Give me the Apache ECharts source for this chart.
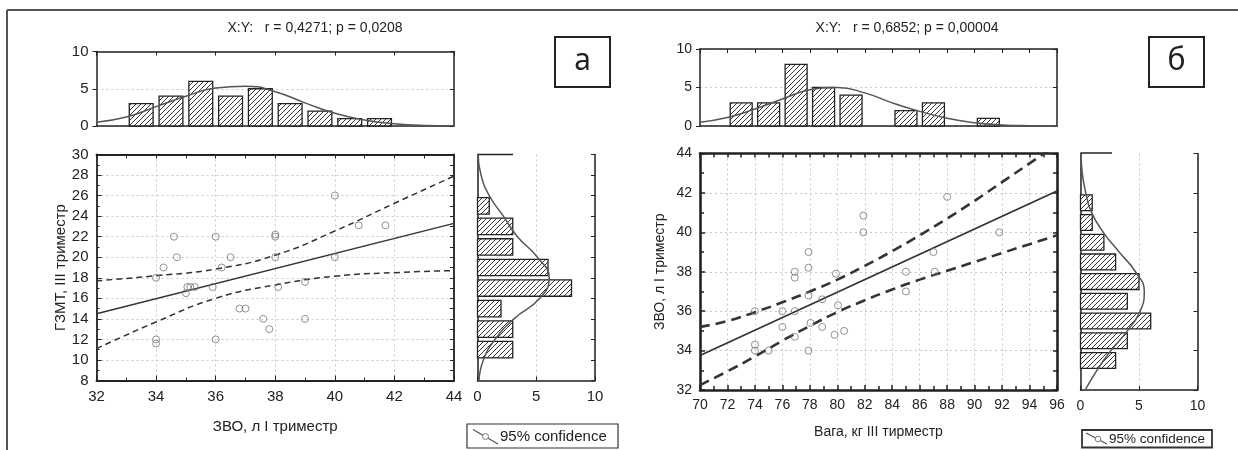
<!DOCTYPE html>
<html><head><meta charset="utf-8">
<script src="https://cdn.jsdelivr.net/npm/echarts@6/dist/echarts.min.js"></script>
<style>html,body{margin:0;padding:0;background:#fff}#c{width:1238px;height:450px}</style>
</head><body><div id="c"></div>
<script>
// ---------- DATA ----------
// Panel а
const titleA = 'X:Y:   r = 0,4271; p = 0,0208';
const xNameA = 'ЗВО, л І триместр';
const yNameA = 'ГЗМТ, ІІІ триместр';
const pointsAx = [34,34,34,34.25,34.6,34.7,35,35.05,35.15,35.3,35.9,36,36,36.2,36.5,36.8,37,37.6,37.8,38,38,38,38.1,39,39,40,40,40.8,41.7];
const pointsAy = [18,12,11.6,19,22,20,16.5,17.1,17.1,17.1,17.1,22,12,19,20,15,15,14,13,22.2,22,20,17.1,17.6,14,26,20,23.1,23.1];
const regAx = [32,44];
const regAy = [14.5,23.3];
const bandAx = [32,34,36,38,40,42,44];
const bandAupper = [17.7,18.2,18.85,20.2,22.55,25.25,27.9];
const bandAlower = [11.1,13.7,16.0,17.3,18.15,18.5,18.7];
const histAxEdges = [33,34,35,36,37,38,39,40,41,42];
const histAxCounts = [3,4,6,4,5,3,2,1,1];
const curveAtopX = [32,33,34,35,36,37,38,39,40,41,42,43,44];
const curveAtopY = [0.5,1.2,2.6,4.0,5.1,5.35,4.6,3.1,1.7,0.8,0.3,0.08,0.02];
const histAyEdges = [10,12,14,16,18,20,22,24,26];
const histAyCounts = [3,3,2,8,6,3,3,1];
const curveArY = [30,28,26,24,22,20,18,16,14,12,10,8];
const curveArX = [0.05,0.3,1.0,2.2,3.4,5.1,6.1,5.3,3.1,1.5,0.5,0.13];
// Panel б
const titleB = 'X:Y:   r = 0,6852; p = 0,00004';
const xNameB = 'Вага, кг ІІІ тирместр';
const yNameB = 'ЗВО, л І триместр';
const pointsBx = [74,74,74,75,76,76,76.9,76.9,76.9,76.9,77.9,77.9,77.9,78.05,77.9,78.9,78.9,79.9,79.8,80.05,80.5,81.9,81.9,85,85,87,87.1,88,91.8];
const pointsBy = [36,34.3,34,34,36,35.2,38,37.7,36,34.7,39,38.2,36.8,35.4,34,36.6,35.2,37.9,34.8,36.3,35,40.85,40,38,37,39,38,41.8,40];
const regBx = [70,96];
const regBy = [33.75,42.1];
const bandBx = [70,72,74,76,78,80,82,84,86,88,90,92,94,96];
const bandBupper = [35.2,35.5,35.95,36.45,37.0,37.6,38.3,39.05,39.85,40.7,41.6,42.55,43.5,44.45];
const bandBlower = [32.25,32.95,33.7,34.5,35.25,35.95,36.55,37.1,37.6,38.05,38.5,38.95,39.4,39.85];
const histBxEdges = [72,74,76,78,80,82,84,86,88,90,92];
const histBxCounts = [3,3,8,5,4,0,2,3,0,1];
const curveBtopX = [70,72,74,76,78,80,82,84,86,88,90,92,94,96];
const curveBtopY = [0.5,1.1,2.2,3.5,4.7,5.0,4.3,3.0,1.9,1.0,0.42,0.14,0.04,0.01];
const histByEdges = [33,34,35,36,37,38,39,40,41,42];
const histByCounts = [3,4,6,4,5,3,2,1,1];
const curveBrY = [44,43,42,41,40,39,38,37,36,35,34,33,32];
const curveBrX = [0.05,0.15,0.45,0.95,1.95,3.3,4.7,5.45,5.1,4.0,2.6,1.4,0.4];
const legendText = '95% confidence';

// ---------- helpers ----------
const FONT = '"Liberation Sans", Arial, sans-serif';
const ink = '#222';
function makeHatch(){
  const s = 5, c = document.createElement('canvas');
  c.width = s; c.height = s;
  const g = c.getContext('2d');
  g.fillStyle = '#fff'; g.fillRect(0,0,s,s);
  g.strokeStyle = '#333'; g.lineWidth = 1;
  g.beginPath();
  g.moveTo(-1, s+1); g.lineTo(s+1, -1);
  g.moveTo(-1, 1); g.lineTo(1, -1);
  g.moveTo(s-1, s+1); g.lineTo(s+1, s-1);
  g.stroke();
  return c;
}
const hatch = {image: makeHatch(), repeat: 'repeat'};
const bins = (edges, counts) => counts.map((c,i)=>[edges[i], edges[i+1], c]).filter(d=>d[2]>0);
const zip = (a,b) => a.map((v,i)=>[v,b[i]]);

function vBars(params, api){
  const lo = api.value(0), hi = api.value(1), c = api.value(2), g = (hi-lo)*0.1;
  const p1 = api.coord([lo+g, c]), p2 = api.coord([hi-g, 0]);
  return {type:'rect', shape:{x:p1[0], y:p1[1], width:p2[0]-p1[0], height:p2[1]-p1[1]},
    style:{fill:hatch, stroke:ink, lineWidth:1.3}};
}
function hBars(params, api){
  const lo = api.value(0), hi = api.value(1), c = api.value(2), g = (hi-lo)*0.1;
  const p1 = api.coord([0, hi-g]), p2 = api.coord([c, lo+g]);
  return {type:'rect', shape:{x:p1[0], y:p1[1], width:p2[0]-p1[0], height:p2[1]-p1[1]},
    style:{fill:hatch, stroke:ink, lineWidth:1.3}};
}
function line(w){ return {show:true, onZero:false, lineStyle:{color:ink, width:w}}; }
const noTick = {show:false}, noLabel = {show:false}, noSplit = {show:false};
function lbl(fs, m){ return {show:true, color:ink, fontSize:fs, fontFamily:FONT, margin:m, showMinLabel:true, showMaxLabel:true}; }
const dotted = {show:true, lineStyle:{color:'#c8c8c8', type:[2,3], width:1}};
function ax(o){ return Object.assign({type:'value', axisLine:line(1.5), axisTick:noTick, axisLabel:noLabel, splitLine:noSplit}, o); }

// ---------- option ----------
const grids = [
  {left:96.5, top:51.5, width:357.5, height:74.5},
  {left:96.5, top:154.5, width:357.5, height:226},
  {left:477.5, top:154.5, width:117.5, height:226},
  {left:700, top:49, width:357, height:77},
  {left:700, top:153.5, width:357, height:236.5},
  {left:1080.5, top:153.5, width:117, height:236.5}
].map(g=>Object.assign({containLabel:false, outerBoundsMode:'none'}, g));

const xAxis = [
  ax({gridIndex:0, min:32, max:44}),
  ax({gridIndex:0, position:'top', min:32, max:44, interval:2, axisTick:{show:true, inside:true, length:4, lineStyle:{color:ink}}}),
  ax({gridIndex:1, min:32, max:44, interval:2, axisLine:line(1.8), axisLabel:lbl(15,9),
      axisTick:{show:true, inside:true, length:5, lineStyle:{color:ink}},
      minorTick:{show:true, splitNumber:2, length:3, lineStyle:{color:ink}},
      splitLine:dotted, name:xNameA, nameLocation:'middle', nameGap:39,
      nameTextStyle:{color:ink, fontSize:15, fontFamily:FONT}}),
  ax({gridIndex:1, position:'top', min:32, max:44, interval:1, axisLine:line(1.8), axisTick:{show:true, inside:true, length:4, lineStyle:{color:ink}}}),
  ax({gridIndex:2, min:0, max:10, interval:5, axisLabel:lbl(15,9), axisTick:{show:true, inside:true, length:4, lineStyle:{color:ink}}, splitLine:dotted}),
  ax({gridIndex:3, min:70, max:96}),
  ax({gridIndex:3, position:'top', min:70, max:96, interval:2, axisTick:{show:true, inside:true, length:4, lineStyle:{color:ink}}}),
  ax({gridIndex:4, min:70, max:96, interval:2, axisLine:line(2.6), axisLabel:lbl(14,8),
      axisTick:{show:true, inside:true, length:5, lineStyle:{color:ink, width:1.5}},
      minorTick:{show:true, splitNumber:2, length:4, lineStyle:{color:ink, width:1.5}},
      splitLine:dotted, name:xNameB, nameLocation:'middle', nameGap:35,
      nameTextStyle:{color:ink, fontSize:14, fontFamily:FONT}}),
  ax({gridIndex:4, position:'top', min:70, max:96, interval:1, axisLine:line(2.6), axisTick:{show:true, inside:true, length:4, lineStyle:{color:ink, width:1.5}}}),
  ax({gridIndex:5, min:0, max:10, interval:5, axisLabel:lbl(14,9), axisTick:{show:true, inside:true, length:4, lineStyle:{color:ink}}, splitLine:dotted})
];
const yAxis = [
  ax({gridIndex:0, min:0, max:10, interval:5, axisLabel:lbl(15,8), axisTick:{show:true, inside:false, length:4, lineStyle:{color:ink}}, splitLine:dotted}),
  ax({gridIndex:0, position:'right', min:0, max:10, interval:5, axisTick:{show:true, inside:true, length:4, lineStyle:{color:ink}}}),
  ax({gridIndex:1, min:8, max:30, interval:2, axisLine:line(1.8), axisLabel:lbl(15,8),
      axisTick:{show:true, inside:true, length:5, lineStyle:{color:ink}},
      minorTick:{show:true, splitNumber:2, length:3, lineStyle:{color:ink}},
      splitLine:dotted, name:yNameA, nameLocation:'middle', nameGap:27,
      nameTextStyle:{color:ink, fontSize:15, fontFamily:FONT}}),
  ax({gridIndex:1, position:'right', min:8, max:30, interval:1, axisLine:line(1.8), axisTick:{show:true, inside:true, length:4, lineStyle:{color:ink}}}),
  ax({gridIndex:2, min:8, max:30}),
  ax({gridIndex:2, position:'right', min:8, max:30, interval:2, axisTick:{show:true, inside:true, length:4, lineStyle:{color:ink}}}),
  ax({gridIndex:3, min:0, max:10, interval:5, axisLabel:lbl(14,8), axisTick:{show:true, inside:false, length:4, lineStyle:{color:ink}}, splitLine:dotted}),
  ax({gridIndex:3, position:'right', min:0, max:10, interval:5, axisTick:{show:true, inside:true, length:4, lineStyle:{color:ink}}}),
  ax({gridIndex:4, min:32, max:44, interval:2, axisLine:line(2.6), axisLabel:lbl(14,8),
      axisTick:{show:true, inside:true, length:5, lineStyle:{color:ink, width:1.5}},
      minorTick:{show:true, splitNumber:2, length:4, lineStyle:{color:ink, width:1.5}},
      splitLine:dotted, name:yNameB, nameLocation:'middle', nameGap:33,
      nameTextStyle:{color:ink, fontSize:14, fontFamily:FONT}}),
  ax({gridIndex:4, position:'right', min:32, max:44, interval:1, axisLine:line(2.6), axisTick:{show:true, inside:true, length:4, lineStyle:{color:ink, width:1.5}}}),
  ax({gridIndex:5, min:32, max:44}),
  ax({gridIndex:5, position:'right', min:32, max:44, interval:2, axisTick:{show:true, inside:true, length:4, lineStyle:{color:ink}}})
];

const curveStyle = {color:'#555', width:1.5};
const series = [
  {type:'custom', xAxisIndex:0, yAxisIndex:0, renderItem:vBars, data:bins(histAxEdges, histAxCounts), z:2},
  {type:'line', xAxisIndex:0, yAxisIndex:0, data:zip(curveAtopX, curveAtopY), smooth:true, showSymbol:false, lineStyle:curveStyle, z:3},
  {type:'line', xAxisIndex:2, yAxisIndex:2, data:zip(bandAx, bandAupper), smooth:true, showSymbol:false, lineStyle:{color:'#333', width:1.5, type:[6,4]}},
  {type:'line', xAxisIndex:2, yAxisIndex:2, data:zip(bandAx, bandAlower), smooth:true, showSymbol:false, lineStyle:{color:'#333', width:1.5, type:[6,4]}},
  {type:'line', xAxisIndex:2, yAxisIndex:2, data:zip(regAx, regAy), showSymbol:false, lineStyle:{color:'#333', width:1.4}},
  {type:'scatter', xAxisIndex:2, yAxisIndex:2, data:zip(pointsAx, pointsAy), symbol:'circle', symbolSize:7,
    itemStyle:{color:'rgba(255,255,255,0)', borderColor:'#777', borderWidth:1}, z:4},
  {type:'custom', xAxisIndex:4, yAxisIndex:4, renderItem:hBars, data:bins(histAyEdges, histAyCounts), z:2},
  {type:'line', xAxisIndex:4, yAxisIndex:4, data:zip(curveArX, curveArY), smooth:true, showSymbol:false, lineStyle:curveStyle, z:3},
  {type:'custom', xAxisIndex:5, yAxisIndex:6, renderItem:vBars, data:bins(histBxEdges, histBxCounts), z:2},
  {type:'line', xAxisIndex:5, yAxisIndex:6, data:zip(curveBtopX, curveBtopY), smooth:true, showSymbol:false, lineStyle:curveStyle, z:3},
  {type:'line', xAxisIndex:7, yAxisIndex:8, data:zip(bandBx, bandBupper), smooth:true, showSymbol:false, lineStyle:{color:'#333', width:2.6, type:[10,6]}},
  {type:'line', xAxisIndex:7, yAxisIndex:8, data:zip(bandBx, bandBlower), smooth:true, showSymbol:false, lineStyle:{color:'#333', width:2.6, type:[10,6]}},
  {type:'line', xAxisIndex:7, yAxisIndex:8, data:zip(regBx, regBy), showSymbol:false, lineStyle:{color:'#333', width:1.8}},
  {type:'scatter', xAxisIndex:7, yAxisIndex:8, data:zip(pointsBx, pointsBy), symbol:'circle', symbolSize:7,
    itemStyle:{color:'rgba(255,255,255,0)', borderColor:'#777', borderWidth:1}, z:4},
  {type:'custom', xAxisIndex:9, yAxisIndex:10, renderItem:hBars, data:bins(histByEdges, histByCounts), z:2},
  {type:'line', xAxisIndex:9, yAxisIndex:10, data:zip(curveBrX, curveBrY), smooth:true, showSymbol:false, lineStyle:curveStyle, z:3}
];

function txt(x, y, t, font, align){ return {type:'text', x:x, y:y, style:{text:t, font:font, fill:ink, align:align||'center', verticalAlign:'middle'}}; }
const graphic = [
  {type:'line', shape:{x1:7, y1:10, x2:1238, y2:10}, style:{stroke:'#555', lineWidth:2}},
  {type:'line', shape:{x1:7, y1:10, x2:7, y2:450}, style:{stroke:'#555', lineWidth:2}},
  txt(315, 28, titleA, '14px ' + FONT),
  txt(907, 28, titleB, '14px ' + FONT),
  {type:'rect', shape:{x:555, y:37, width:55, height:50}, style:{fill:'#fff', stroke:ink, lineWidth:2}},
  txt(582.5, 61, 'а', '30px "Noto Sans", "Open Sans", sans-serif'),
  {type:'rect', shape:{x:1149, y:37, width:55, height:50}, style:{fill:'#fff', stroke:ink, lineWidth:2}},
  txt(1176.5, 61, 'б', '30px "Noto Sans", "Open Sans", sans-serif'),
  {type:'line', shape:{x1:477.5, y1:154.5, x2:513, y2:154.5}, style:{stroke:ink, lineWidth:1.5}},
  {type:'line', shape:{x1:1080.5, y1:153, x2:1112, y2:153}, style:{stroke:ink, lineWidth:1.5}},
  {type:'rect', shape:{x:467, y:424, width:151, height:24}, style:{fill:'#fff', stroke:'#333', lineWidth:1.2}},
  {type:'line', shape:{x1:473, y1:429.5, x2:498, y2:444}, style:{stroke:'#555', lineWidth:1.2}},
  {type:'circle', shape:{cx:485.5, cy:436.5, r:3}, style:{fill:'#fff', stroke:'#777', lineWidth:1}},
  txt(500, 436.5, legendText, '15px ' + FONT, 'left'),
  {type:'rect', shape:{x:1082, y:430, width:130, height:17.5}, style:{fill:'#fff', stroke:'#333', lineWidth:1.8}},
  {type:'line', shape:{x1:1086, y1:433, x2:1107, y2:444}, style:{stroke:'#555', lineWidth:1.2}},
  {type:'circle', shape:{cx:1098, cy:439, r:2.8}, style:{fill:'#fff', stroke:'#777', lineWidth:1}},
  txt(1109, 438.8, legendText, '13.5px ' + FONT, 'left')
];

const chart = echarts.init(document.getElementById('c'), null, {renderer:'canvas'});
chart.setOption({animation:false, backgroundColor:'#fff', grid:grids, xAxis:xAxis, yAxis:yAxis, series:series, graphic:graphic});
</script>
</body></html>
